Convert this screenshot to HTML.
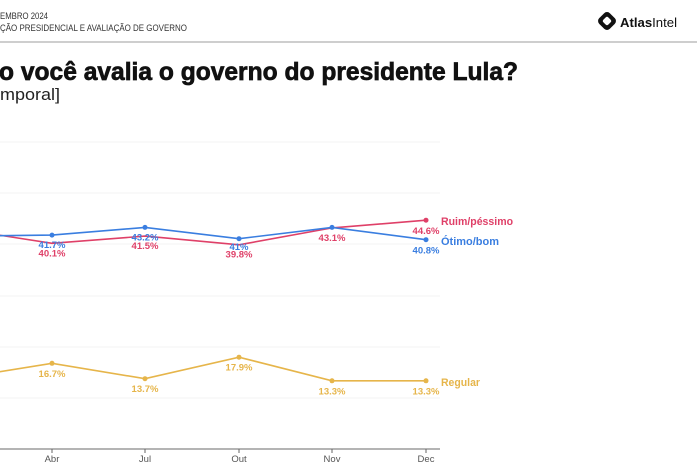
<!DOCTYPE html>
<html>
<head>
<meta charset="utf-8">
<style>
html,body{margin:0;padding:0;background:#fff;}
svg{display:block;}
text{font-family:"Liberation Sans",sans-serif;}
</style>
</head>
<body>
<svg width="697" height="465" viewBox="0 0 697 465" xmlns="http://www.w3.org/2000/svg">
  <rect x="0" y="0" width="697" height="465" fill="#fff"/>
  <!-- header -->
  <text x="0" y="19" font-size="9" fill="#333" textLength="48" lengthAdjust="spacingAndGlyphs">EMBRO 2024</text>
  <text x="0" y="31" font-size="9" fill="#333" textLength="187" lengthAdjust="spacingAndGlyphs">ÇÃO PRESIDENCIAL E AVALIAÇÃO DE GOVERNO</text>
  <!-- logo -->
  <g transform="translate(607,21)">
    <rect x="-7.5" y="-7.5" width="15" height="15" rx="4" transform="rotate(45)" fill="#111"/>
    <rect x="-3.5" y="-3.5" width="7" height="7" rx="2" transform="rotate(45)" fill="#fff"/>
  </g>
  <text x="620" y="27" font-size="13" fill="#111" textLength="57" lengthAdjust="spacingAndGlyphs"><tspan font-weight="bold">Atlas</tspan>Intel</text>
  <line x1="0" y1="42" x2="697" y2="42" stroke="#bdbdbd" stroke-width="1.5"/>
  <!-- title -->
  <text x="-1" y="80" font-size="25" font-weight="bold" fill="#111" stroke="#111" stroke-width="0.7" textLength="519" lengthAdjust="spacingAndGlyphs">o você avalia o governo do presidente Lula?</text>
  <text x="0" y="100" font-size="17" fill="#222" textLength="60" lengthAdjust="spacingAndGlyphs">mporal]</text>
  <!-- gridlines -->
  <g stroke="#f3f3f3" stroke-width="1">
    <line x1="0" y1="142" x2="440" y2="142"/>
    <line x1="0" y1="193" x2="440" y2="193"/>
    <line x1="0" y1="244" x2="440" y2="244"/>
    <line x1="0" y1="296" x2="440" y2="296"/>
    <line x1="0" y1="347" x2="440" y2="347"/>
    <line x1="0" y1="398" x2="440" y2="398"/>
  </g>
  <!-- axis -->
  <line x1="0" y1="449" x2="440" y2="449" stroke="#888" stroke-width="1.2"/>
  <g stroke="#666" stroke-width="1">
    <line x1="52" y1="449" x2="52" y2="453"/>
    <line x1="145" y1="449" x2="145" y2="453"/>
    <line x1="239" y1="449" x2="239" y2="453"/>
    <line x1="332" y1="449" x2="332" y2="453"/>
    <line x1="426" y1="449" x2="426" y2="453"/>
  </g>
  <g font-size="9.5" fill="#555" text-anchor="middle">
    <text x="52" y="462">Abr</text>
    <text x="145" y="462">Jul</text>
    <text x="239" y="462">Out</text>
    <text x="332" y="462">Nov</text>
    <text x="426" y="462">Dec</text>
  </g>
  <!-- Regular -->
  <polyline fill="none" stroke="#e6b54a" stroke-width="1.6" points="-41,378.2 52,363.3 145,378.7 239,357.2 332,380.8 426,380.8"/>
  <g fill="#e6b54a">
    <circle cx="52" cy="363.3" r="2.5"/><circle cx="145" cy="378.7" r="2.5"/><circle cx="239" cy="357.2" r="2.5"/><circle cx="332" cy="380.8" r="2.5"/><circle cx="426" cy="380.8" r="2.5"/>
  </g>
  <g font-size="9.5" font-weight="bold" fill="#e6b54a" text-anchor="middle">
    <text x="52" y="377">16.7%</text>
    <text x="145" y="392">13.7%</text>
    <text x="239" y="370.5">17.9%</text>
    <text x="332" y="394.5">13.3%</text>
    <text x="426" y="394.5">13.3%</text>
  </g>
  <!-- Ruim/péssimo -->
  <polyline fill="none" stroke="#df4068" stroke-width="1.6" points="-41,228.9 52,243.3 145,236.1 239,244.8 332,227.9 426,220.2"/>
  <!-- Ótimo/bom -->
  <polyline fill="none" stroke="#3a7ee0" stroke-width="1.6" points="-41,236.1 52,235.1 145,227.4 239,238.7 332,227.4 426,239.7"/>
  <g fill="#df4068">
    <circle cx="426" cy="220.2" r="2.5"/>
  </g>
  <g fill="#3a7ee0">
    <circle cx="52" cy="235.1" r="2.5"/><circle cx="145" cy="227.4" r="2.5"/><circle cx="239" cy="238.7" r="2.5"/><circle cx="332" cy="227.4" r="2.5"/><circle cx="426" cy="239.7" r="2.5"/>
  </g>
  <g font-size="9.5" font-weight="bold" fill="#3a7ee0" text-anchor="middle">
    <text x="52" y="248">41.7%</text>
    <text x="145" y="240.5">43.2%</text>
    <text x="239" y="250">41%</text>
    <text x="426" y="253.5">40.8%</text>
  </g>
  <g font-size="9.5" font-weight="bold" fill="#df4068" text-anchor="middle">
    <text x="52" y="256.5">40.1%</text>
    <text x="145" y="249">41.5%</text>
    <text x="239" y="257.5">39.8%</text>
    <text x="332" y="241">43.1%</text>
    <text x="426" y="234">44.6%</text>
  </g>
  <!-- series labels -->
  <text x="441" y="225" font-size="11" font-weight="bold" fill="#df4068" textLength="72" lengthAdjust="spacingAndGlyphs">Ruim/péssimo</text>
  <text x="441" y="245" font-size="11" font-weight="bold" fill="#3a7ee0" textLength="58" lengthAdjust="spacingAndGlyphs">Ótimo/bom</text>
  <text x="441" y="386" font-size="11" font-weight="bold" fill="#e6b54a" textLength="39" lengthAdjust="spacingAndGlyphs">Regular</text>
</svg>
</body>
</html>
